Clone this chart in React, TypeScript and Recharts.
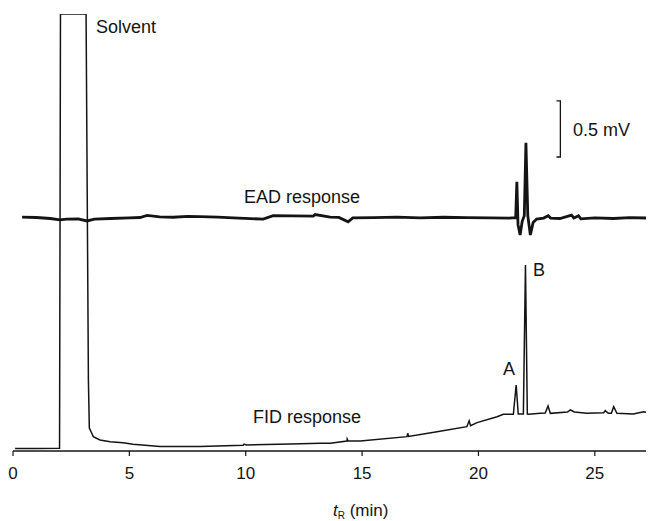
import React from "react";
import { ComposedChart, Line, XAxis, YAxis } from "recharts";

// Retention time (min) and FID signal (mV, arbitrary offset)
const fidTimes = [
  0.09, 1.0, 2.0, 2.04, 3.14, 3.24, 3.28, 3.4, 3.45, 3.74, 4.17, 4.73, 5.16, 6.32,
  8.04, 9.89, 9.93, 10.02, 11.91, 13.2, 13.63, 14.35, 14.36, 14.4, 14.92, 16.93,
  16.96, 17.0, 18.22, 19.5, 19.6, 19.66, 19.94, 20.8, 21.07, 21.5, 21.62, 21.71,
  21.93, 22.02, 22.1, 22.15, 22.66, 22.87, 22.99, 23.09, 23.82, 23.95, 24.12,
  24.66, 25.38, 25.45, 25.58, 25.71, 25.81, 25.95, 26.66, 27.09, 27.5,
];
const fidValues = [
  0.022, 0.022, 0.024, 3.9, 3.9, 0.634, 0.205, 0.152, 0.128, 0.098, 0.083, 0.074,
  0.06, 0.04, 0.04, 0.051, 0.062, 0.054, 0.062, 0.069, 0.069, 0.089, 0.107, 0.089,
  0.089, 0.128, 0.158, 0.13, 0.172, 0.217, 0.27, 0.225, 0.253, 0.306, 0.328, 0.328,
  0.589, 0.33, 0.33, 1.66, 0.33, 0.328, 0.336, 0.339, 0.402, 0.336, 0.348, 0.366,
  0.348, 0.336, 0.342, 0.36, 0.336, 0.336, 0.395, 0.336, 0.33, 0.351, 0.33,
];

// EAD signal (mV, arbitrary offset)
const eadTimes = [
  0.39, 1.0, 1.6, 2.02, 2.3, 2.8, 3.18, 3.5, 4.2, 5.0, 5.46, 5.76, 6.3, 6.88, 7.5,
  8.04, 8.8, 9.46, 10.2, 10.75, 11.18, 12.0, 12.9, 12.98, 13.63, 14.0, 14.4, 14.6,
  15.5, 16.5, 17.5, 18.5, 19.5, 20.5, 21.3, 21.6, 21.65, 21.7, 21.79, 21.88, 21.97,
  22.04, 22.12, 22.23, 22.35, 22.5, 22.8, 23.0, 23.1, 23.5, 24.0, 24.1, 24.3, 24.4,
  25.0, 25.8, 26.5, 27.5,
];
const eadValues = [
  2.088, 2.084, 2.075, 2.062, 2.07, 2.072, 2.053, 2.07, 2.075, 2.08, 2.084, 2.102,
  2.09, 2.086, 2.094, 2.092, 2.088, 2.08, 2.074, 2.07, 2.1, 2.098, 2.097, 2.11,
  2.088, 2.085, 2.045, 2.08, 2.082, 2.088, 2.08, 2.086, 2.082, 2.08, 2.079, 2.082,
  2.403, 2.02, 1.928, 2.05, 2.1, 2.751, 2.1, 1.928, 2.04, 2.07, 2.079, 2.1, 2.079,
  2.075, 2.105, 2.079, 2.1, 2.072, 2.08, 2.075, 2.082, 2.078,
];

// 0.5 mV scale bar (bracket)
const scaleTimes = [23.35, 23.52, 23.52, 23.35];
const scaleValues = [3.124, 3.124, 2.624, 2.624];

const xTicks = [0, 5, 10, 15, 20, 25];

const zip = (ts: number[], vs: number[]) => ts.map((t, i) => ({ t, v: vs[i] }));
const fidData = zip(fidTimes, fidValues);
const eadData = zip(eadTimes, eadValues);
const scaleData = zip(scaleTimes, scaleValues);

const FONT = "'Liberation Sans', Arial, Helvetica, sans-serif";
const INK = "#141414";

export default function App() {
  const W = 646;
  const H = 513;
  return (
    <div style={{ position: "relative", width: W, height: H, fontFamily: FONT }}>
      <ComposedChart
        width={W}
        height={H}
        margin={{ top: 6, right: 1, bottom: 30, left: 5 }}
      >
        <XAxis
          type="number"
          dataKey="t"
          domain={[0, 27.5]}
          allowDataOverflow
          ticks={xTicks}
          tickSize={5}
          tickMargin={11}
          height={40}
          axisLine={{ stroke: INK, strokeWidth: 1.3 }}
          tickLine={{ stroke: INK, strokeWidth: 1.2 }}
          tick={{ fill: INK, fontSize: 17, fontFamily: FONT }}
        />
        <YAxis type="number" dataKey="v" domain={[0, 3.9]} allowDataOverflow hide />
        <Line
          data={eadData}
          dataKey="v"
          type="linear"
          stroke={INK}
          strokeWidth={2.8}
          dot={false}
          isAnimationActive={false}
        />
        <Line
          data={fidData}
          dataKey="v"
          type="linear"
          stroke={INK}
          strokeWidth={1.5}
          dot={false}
          isAnimationActive={false}
        />
        <Line
          data={scaleData}
          dataKey="v"
          type="linear"
          stroke={INK}
          strokeWidth={1.3}
          dot={false}
          isAnimationActive={false}
        />
      </ComposedChart>
      <svg
        width={W}
        height={H}
        style={{ position: "absolute", left: 0, top: 0, pointerEvents: "none" }}
      >
        <g fill={INK} fontFamily={FONT} fontSize={18}>
          <text x={88} y={25}>Solvent</text>
          <text x={236} y={195}>EAD response</text>
          <text x={245} y={415}>FID response</text>
          <text x={495} y={367}>A</text>
          <text x={525} y={268}>B</text>
          <text x={565} y={128}>0.5 mV</text>
          <text x={325} y={508} fontSize={17}>
            <tspan fontStyle="italic">t</tspan>
            <tspan fontSize={10} dy={3}>R</tspan>
            <tspan dy={-3}> (min)</tspan>
          </text>
        </g>
      </svg>
    </div>
  );
}
